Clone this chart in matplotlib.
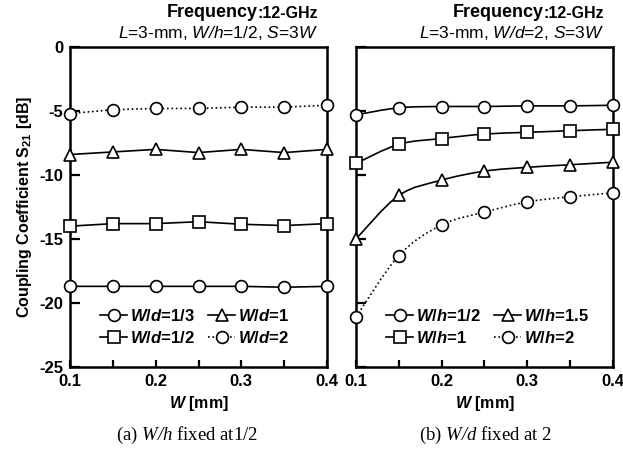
import numpy as np
import matplotlib
matplotlib.use("Agg")
import matplotlib.pyplot as plt
from matplotlib.path import Path
from matplotlib.patches import PathPatch
from matplotlib.lines import Line2D
from matplotlib.ticker import MultipleLocator

plt.rcParams['font.family'] = ['Liberation Sans', 'DejaVu Sans']
plt.rcParams['mathtext.fontset'] = 'custom'
plt.rcParams['mathtext.rm'] = 'Liberation Sans:bold'
plt.rcParams['mathtext.it'] = 'Liberation Sans:bold:italic'
plt.rcParams['mathtext.bf'] = 'Liberation Sans:bold'
plt.rcParams['mathtext.sf'] = 'Liberation Sans:italic'      # regular italic
plt.rcParams['mathtext.cal'] = 'Liberation Serif:italic'    # captions

# data
w = [0.10, 0.15, 0.20, 0.25, 0.30, 0.35, 0.40]

# (a) W/h fixed at 1/2
a_wd_1_3 = [-18.7, -18.7, -18.7, -18.7, -18.7, -18.77, -18.7]
a_wd_1_2 = [-14.0, -13.8, -13.8, -13.65, -13.85, -13.95, -13.8]
a_wd_1 = [-8.4, -8.2, -8.0, -8.25, -8.0, -8.25, -8.0]
a_wd_2 = [-5.2, -4.9, -4.8, -4.8, -4.7, -4.7, -4.55]

# (b) W/d fixed at 2
b_wh_1_2 = [-5.3, -4.75, -4.65, -4.65, -4.6, -4.6, -4.55]
b_wh_1 = [-9.1, -7.6, -7.15, -6.8, -6.67, -6.54, -6.43]
b_wh_1_5 = [-15.0, -11.6, -10.4, -9.7, -9.4, -9.2, -9.0]
b_wh_2 = [-21.1, -16.3, -13.9, -12.9, -12.1, -11.7, -11.4]

a_labels = ['$W/d$=1/3', '$W/d$=1/2', '$W/d$=1', '$W/d$=2']
b_labels = ['$W/h$=1/2', '$W/h$=1', '$W/h$=1.5', '$W/h$=2']
markers = ['o', 's', '^', 'o']
styles = ['-', '-', '-', ':']


def smooth_path(x, y):
    # catmull-rom through the data points, drawn as bezier segments
    p = np.column_stack([x, y]).astype(float)
    n = len(p)
    verts = [p[0]]
    codes = [Path.MOVETO]
    for i in range(n - 1):
        p0 = p[max(i - 1, 0)]
        p1 = p[i]
        p2 = p[i + 1]
        p3 = p[min(i + 2, n - 1)]
        verts += [p1 + (p2 - p0) / 6, p2 - (p3 - p1) / 6, p2]
        codes += [Path.CURVE4] * 3
    return Path(verts, codes)


fig = plt.figure(figsize=(6.23, 4.51), dpi=100)
ax1 = fig.add_axes([0.1124, 0.1863, 0.4125, 0.7095])
ax2 = fig.add_axes([0.5714, 0.1863, 0.4125, 0.7095])

lw = 1.2
ms = 8.5
mew = 1.2

series_a = [a_wd_1_3, a_wd_1_2, a_wd_1, a_wd_2]
series_b = [b_wh_1_2, b_wh_1, b_wh_1_5, b_wh_2]

for ys, m, ls in zip(series_a, markers, styles):
    ax1.plot(w, ys, ls=ls, lw=lw, color='black', marker=m, ms=ms,
             mfc='white', mec='black', mew=mew, clip_on=False, zorder=3)

for ys, m, ls in zip(series_b, markers, styles):
    ax2.add_patch(PathPatch(smooth_path(w, ys), fill=False, ls=ls, lw=lw,
                            edgecolor='black', zorder=2))
    ax2.plot(w, ys, ls='none', marker=m, ms=ms, mfc='white', mec='black',
             mew=mew, clip_on=False, zorder=3)

for ax, labels in [(ax1, a_labels), (ax2, b_labels)]:
    ax.set_xlim(0.1, 0.4)
    ax.set_ylim(-25, 0)
    ax.xaxis.set_major_locator(MultipleLocator(0.1))
    ax.xaxis.set_minor_locator(MultipleLocator(0.05))
    ax.yaxis.set_major_locator(MultipleLocator(5))
    ax.tick_params(axis='both', which='both', direction='in', width=1.6,
                   labelsize=12, pad=5)
    ax.tick_params(axis='x', which='both', length=5)
    ax.tick_params(axis='y', length=7)
    for sp in ax.spines.values():
        sp.set_linewidth(1.8)
    ax.set_xlabel('$W$ [mm]', fontsize=11.5, fontweight='bold', labelpad=4)

    handles = [Line2D([], [], color='black', ls=ls, lw=lw, marker=m, ms=ms,
                      mfc='white', mec='black', mew=mew)
               for m, ls in zip(markers, styles)]
    ax.legend(handles, labels, ncol=2, loc='lower left',
              bbox_to_anchor=(0.06, 0.02), frameon=False,
              prop={'size': 12, 'weight': 'bold'},
              handlelength=1.6, handletextpad=0.2, columnspacing=0.8,
              labelspacing=0.32)

ax1.set_xticks([0.1, 0.2, 0.3, 0.4])
ax1.set_xticklabels(['0.1', '0.2', '0.3', '0.4'], fontweight='bold')
ax2.set_xticks([0.1, 0.2, 0.3, 0.4])
ax2.set_xticklabels(['0.1', '0.2', '0.3', '0.4'], fontweight='bold')
ax1.set_yticks([0, -5, -10, -15, -20, -25])
ax1.set_yticklabels(['0', '-5', '-10', '-15', '-20', '-25'], fontweight='bold')
ax2.tick_params(axis='y', labelleft=False)

ax1.set_ylabel(r'Coupling Coefficient $\mathrm{S}_{21}$ [dB]', fontsize=11.5,
               fontweight='bold', labelpad=4)

for ax, sub in [(ax1, r'$\mathsf{L}$=3-mm, $\mathsf{W/h}$=1/2, $\mathsf{S}$=3$\mathsf{W}$'),
                (ax2, r'$\mathsf{L}$=3-mm, $\mathsf{W/d}$=2, $\mathsf{S}$=3$\mathsf{W}$')]:
    t2 = ax.text(0.965, 1.092, ':12-GHz', transform=ax.transAxes,
                 ha='right', va='baseline', fontsize=11.5, fontweight='bold')
    ax.annotate('Frequency', xy=(0, 0), xycoords=t2, ha='right', va='bottom',
                fontsize=13, fontweight='bold')
    ax.text(0.965, 1.028, sub, transform=ax.transAxes, ha='right',
            va='baseline', fontsize=12.5)

fig.text(0.300, 0.025, r'(a) $\mathcal{W/h}$ fixed at1/2', ha='center',
         fontsize=13.5, family='Liberation Serif')
fig.text(0.779, 0.025, r'(b) $\mathcal{W/d}$ fixed at 2', ha='center',
         fontsize=13.5, family='Liberation Serif')

fig.savefig('out.png', dpi=100)
